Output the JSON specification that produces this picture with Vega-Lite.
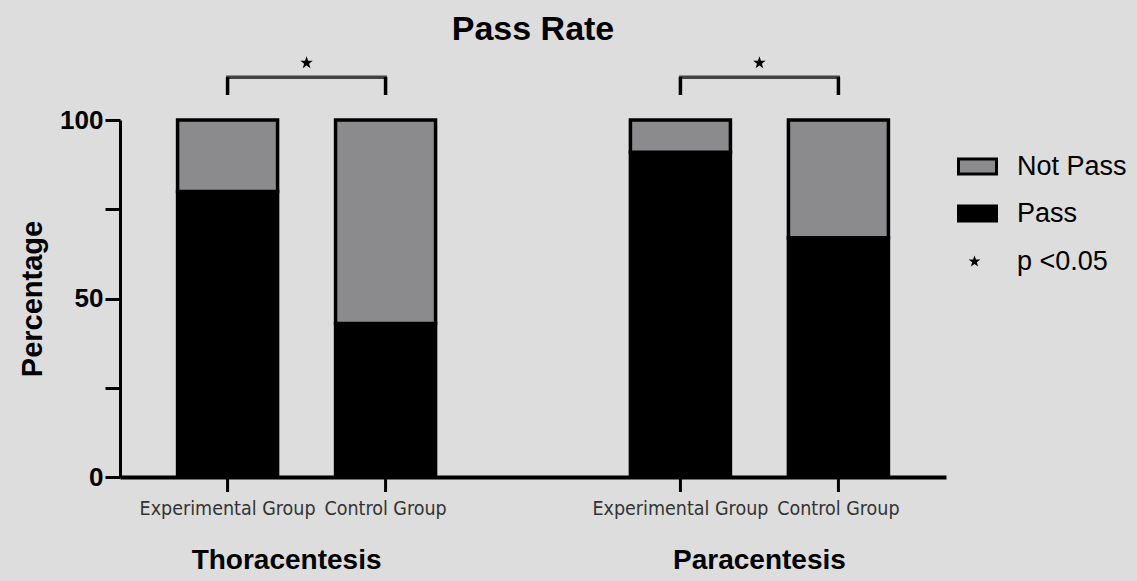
{
  "$schema": "https://vega.github.io/schema/vega-lite/v6.json",
  "width": 826,
  "height": 357,
  "autosize": {"type": "none"},
  "padding": {"left": 120, "top": 120, "right": 191, "bottom": 104},
  "background": "#dddddd",
  "config": {"view": {"stroke": null}, "font": "Liberation Sans"},
  "title": {"text": "Pass Rate", "fontSize": 34, "fontWeight": "bold", "color": "#000000", "anchor": "middle", "offset": 9},
  "datasets": {
    "bars": [
      {"procedure": "Thoracentesis", "group": "Experimental Group", "result": "Pass", "percent": 80},
      {"procedure": "Thoracentesis", "group": "Experimental Group", "result": "Not Pass", "percent": 20},
      {"procedure": "Thoracentesis", "group": "Control Group", "result": "Pass", "percent": 43},
      {"procedure": "Thoracentesis", "group": "Control Group", "result": "Not Pass", "percent": 57},
      {"procedure": "Paracentesis", "group": "Experimental Group", "result": "Pass", "percent": 91},
      {"procedure": "Paracentesis", "group": "Experimental Group", "result": "Not Pass", "percent": 9},
      {"procedure": "Paracentesis", "group": "Control Group", "result": "Pass", "percent": 67},
      {"procedure": "Paracentesis", "group": "Control Group", "result": "Not Pass", "percent": 33}
    ],
    "groups": [
      {"procedure": "Thoracentesis", "group": "Experimental Group", "low": 107, "high": 112},
      {"procedure": "Thoracentesis", "group": "Control Group", "low": 107, "high": 112},
      {"procedure": "Paracentesis", "group": "Experimental Group", "low": 107, "high": 112},
      {"procedure": "Paracentesis", "group": "Control Group", "low": 107, "high": 112}
    ],
    "stars": [
      {"procedure": "Thoracentesis", "sig": "p <0.05", "starpos": 116, "bar": 112},
      {"procedure": "Paracentesis", "sig": "p <0.05", "starpos": 116, "bar": 112}
    ]
  },
  "layer": [
    {
      "data": {"name": "bars"},
      "mark": {"type": "bar", "stroke": "#000000", "strokeWidth": 3.5},
      "encoding": {
        "x": {
          "field": "procedure", "type": "nominal",
          "sort": ["Thoracentesis", "Paracentesis"],
          "scale": {"paddingInner": 0.2, "paddingOuter": 0.012},
          "axis": {
            "title": null, "ticks": false, "labelAngle": 0, "labelLimit": 0,
            "labelFontSize": 28, "labelFontWeight": "bold", "labelColor": "#000000",
            "labelPadding": 69, "domainColor": "#000000", "domainWidth": 4,
            "labelOffset": {"expr": "datum.value === 'Thoracentesis' ? -20 : 0"}
          }
        },
        "xOffset": {
          "field": "group", "type": "nominal",
          "sort": ["Experimental Group", "Control Group"],
          "scale": {"paddingInner": 0.367, "paddingOuter": 0.33}
        },
        "y": {
          "field": "percent", "type": "quantitative", "stack": "zero",
          "scale": {"domain": [0, 100], "nice": false},
          "axis": {
            "title": "Percentage", "values": [0, 25, 50, 75, 100],
            "labelExpr": "datum.value % 50 === 0 ? datum.label : ''",
            "labelFontSize": 26, "labelFontWeight": "bold", "labelColor": "#000000",
            "labelPadding": 2, "tickColor": "#000000", "tickWidth": 3, "tickSize": 15,
            "domainColor": "#000000", "domainWidth": 3, "grid": false,
            "titleFontSize": 29, "titleFontWeight": "bold", "titleColor": "#000000", "titlePadding": 12,
            "encode": {"ticks": {"update": {"x2": {"signal": "datum.value % 50 === 0 ? -15 : -8"}}}}
          }
        },
        "color": {
          "field": "result", "type": "nominal",
          "scale": {"domain": ["Not Pass", "Pass"], "range": ["#8b8b8e", "#000000"]},
          "legend": {
            "title": null, "orient": "none", "legendX": 837, "legendY": 26, "padding": 0,
            "symbolType": "M-1,-0.4H1V0.4H-1Z", "symbolSize": 1444,
            "symbolStrokeColor": "#000000", "symbolStrokeWidth": 3,
            "labelFontSize": 27, "labelColor": "#000000", "labelOffset": 19, "rowPadding": 12
          }
        },
        "order": {"field": "result", "type": "nominal", "sort": "descending"}
      }
    },
    {
      "data": {"name": "groups"},
      "mark": {"type": "rule", "color": "#000000", "strokeWidth": 3},
      "encoding": {
        "x": {"field": "procedure", "type": "nominal", "sort": ["Thoracentesis", "Paracentesis"]},
        "xOffset": {"field": "group", "type": "nominal", "sort": ["Experimental Group", "Control Group"]},
        "y": {"datum": 0, "type": "quantitative", "scale": {"domain": [0, 100], "nice": false}},
        "y2": {"datum": -4.2}
      }
    },
    {
      "data": {"name": "groups"},
      "mark": {"type": "rule", "color": "#000000", "strokeWidth": 3.5},
      "encoding": {
        "x": {"field": "procedure", "type": "nominal", "sort": ["Thoracentesis", "Paracentesis"]},
        "xOffset": {"field": "group", "type": "nominal", "sort": ["Experimental Group", "Control Group"]},
        "y": {"field": "low", "type": "quantitative", "scale": {"domain": [0, 100], "nice": false}},
        "y2": {"field": "high"}
      }
    },
    {
      "data": {"name": "groups"},
      "mark": {"type": "text", "font": "Liberation Sans Narrow, DejaVu Sans Condensed, Arial Narrow, sans-serif", "fontSize": 19.5, "color": "#333333", "baseline": "middle", "dy": 32},
      "encoding": {
        "x": {"field": "procedure", "type": "nominal", "sort": ["Thoracentesis", "Paracentesis"]},
        "xOffset": {"field": "group", "type": "nominal", "sort": ["Experimental Group", "Control Group"]},
        "y": {"datum": 0, "type": "quantitative", "scale": {"domain": [0, 100], "nice": false}},
        "text": {"field": "group", "type": "nominal"}
      }
    },
    {
      "data": {"name": "stars"},
      "mark": {"type": "tick", "color": "#000000", "size": 161, "thickness": 3.5, "orient": "horizontal"},
      "encoding": {
        "x": {"field": "procedure", "type": "nominal", "sort": ["Thoracentesis", "Paracentesis"]},
        "y": {"field": "bar", "type": "quantitative", "scale": {"domain": [0, 100], "nice": false}}
      }
    },
    {
      "data": {"name": "stars"},
      "mark": {"type": "point", "filled": true, "size": 170, "opacity": 1, "color": "#000000"},
      "encoding": {
        "x": {"field": "procedure", "type": "nominal", "sort": ["Thoracentesis", "Paracentesis"]},
        "y": {"field": "starpos", "type": "quantitative", "scale": {"domain": [0, 100], "nice": false}},
        "shape": {
          "field": "sig", "type": "nominal",
          "scale": {"domain": ["p <0.05"], "range": ["M0,-1L0.235,-0.324L0.951,-0.309L0.38,0.124L0.588,0.809L0,0.4L-0.588,0.809L-0.38,0.124L-0.951,-0.309L-0.235,-0.324Z"]},
          "legend": {
            "title": null, "orient": "none", "legendX": 841, "legendY": 128, "padding": 0,
            "symbolSize": 150, "symbolFillColor": "#000000", "symbolStrokeWidth": 0,
            "labelFontSize": 27, "labelColor": "#000000", "labelOffset": 29
          }
        }
      }
    }
  ]
}
